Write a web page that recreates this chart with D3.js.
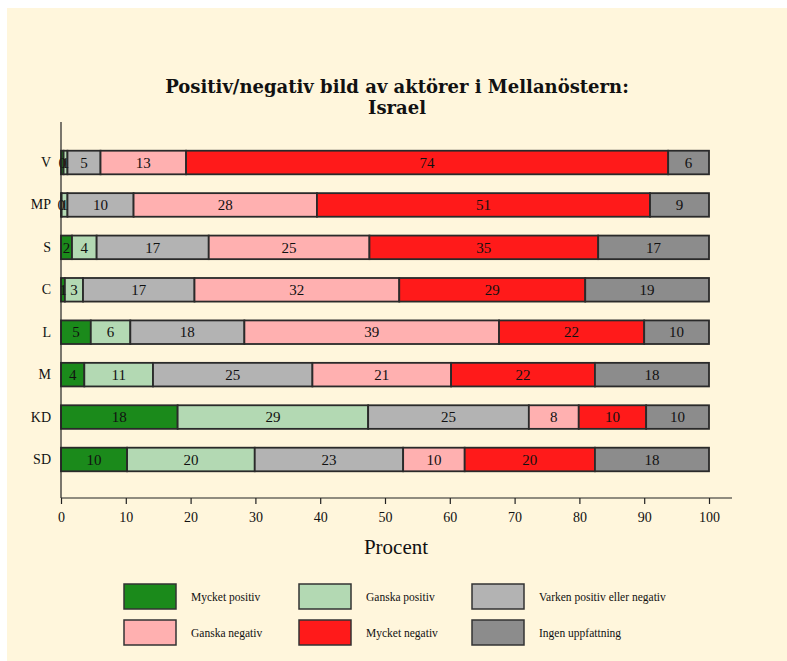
<!DOCTYPE html>
<html><head><meta charset="utf-8">
<script src="https://cdn.jsdelivr.net/npm/d3@7"></script>
<style>
html,body{margin:0;padding:0;background:#fff;}
svg{display:block;}
text{font-family:"Liberation Serif","DejaVu Serif",serif;fill:#111;}
</style></head>
<body>
<svg id="chart" width="787" height="661"></svg>
<script>
const categories = ["V","MP","S","C","L","M","KD","SD"];
const seriesNames = ["Mycket positiv","Ganska positiv","Varken positiv eller negativ","Ganska negativ","Mycket negativ","Ingen uppfattning"];
const seriesColors = ["#1b8a1b","#b3d9b3","#b3b3b3","#ffb0b0","#ff1a1a","#8c8c8c"];
const mycketPositiv = [0.4, 0.1, 1.7, 0.6, 4.6, 3.6, 18.0, 10.2];
const ganskaPositiv = [0.6, 0.9, 3.8, 2.8, 6.1, 10.6, 29.4, 19.7];
const varken        = [5.1, 10.2, 17.3, 17.2, 17.6, 24.6, 24.8, 22.9];
const ganskaNegativ = [13.2, 28.3, 24.8, 31.6, 39.3, 21.4, 7.7, 9.5];
const mycketNegativ = [74.4, 51.4, 35.3, 28.7, 22.4, 22.2, 10.4, 20.1];
const ingen         = [6.3, 9.1, 17.1, 19.1, 10.0, 17.6, 9.7, 17.6];
const xTicks = [0,10,20,30,40,50,60,70,80,90,100];
const titleLines = ["Positiv/negativ bild av aktörer i Mellanöstern:","Israel"];
const xTitle = "Procent";

const series = [mycketPositiv, ganskaPositiv, varken, ganskaNegativ, mycketNegativ, ingen];
const rows = categories.map((c,i)=>{
  const o={cat:c};
  seriesNames.forEach((s,j)=>o[s]=series[j][i]);
  return o;
});
const stacked = d3.stack().keys(seriesNames)(rows);

const svg = d3.select("#chart");
svg.append("rect").attr("x",7).attr("y",8).attr("width",780).attr("height",653).attr("fill","#fff6dc");

const x = d3.scaleLinear().domain([0,100]).range([61,709]);
const y = d3.scaleBand().domain(categories).range([141.3,480.7]).paddingInner(0.444).paddingOuter(0.222);

// title
const t = svg.append("text").attr("text-anchor","middle").attr("font-weight","bold")
  .attr("font-size",18).style("font-family","'DejaVu Serif',serif");
titleLines.forEach((l,i)=>t.append("tspan").attr("x",397).attr("y",93+i*20.5).text(l));

// bars
const g = svg.append("g");
stacked.forEach((layer,j)=>{
  g.selectAll(null).data(layer).enter().append("rect")
    .attr("x",d=>x(d[0])).attr("width",d=>x(d[1])-x(d[0]))
    .attr("y",d=>y(d.data.cat)).attr("height",y.bandwidth())
    .attr("fill",seriesColors[j]).attr("stroke","#2a2a2a").attr("stroke-width",1.8);
});
stacked.forEach((layer,j)=>{
  g.selectAll(null).data(layer).enter().append("text")
    .attr("x",d=>(x(d[0])+x(d[1]))/2).attr("y",d=>y(d.data.cat)+y.bandwidth()/2)
    .attr("dy","0.35em").attr("text-anchor","middle").attr("font-size",15)
    .attr("fill","#222")
    .text(d=>Math.round(d[1]-d[0]));
});

// axes
const xa = svg.append("g").attr("transform","translate(0,498)")
  .call(d3.axisBottom(x).tickValues(xTicks).tickSize(6).tickPadding(8).tickSizeOuter(0));
xa.select(".domain").remove();
xa.selectAll("line").attr("stroke","#222").attr("stroke-width",1.2);
xa.selectAll("text").attr("font-size",14).attr("font-family","Liberation Serif").attr("fill","#111");
svg.append("line").attr("x1",61).attr("x2",732).attr("y1",498).attr("y2",498).attr("stroke","#222").attr("stroke-width",1.2);

const ya = svg.append("g").attr("transform","translate(61,0)")
  .call(d3.axisLeft(y).tickSize(0).tickPadding(10));
ya.select(".domain").remove();
ya.selectAll("text").attr("font-size",14).attr("font-family","Liberation Serif").attr("fill","#111");
svg.append("line").attr("x1",61).attr("x2",61).attr("y1",122).attr("y2",498).attr("stroke","#222").attr("stroke-width",1.2);

svg.append("text").attr("x",396).attr("y",554).attr("text-anchor","middle").attr("font-size",21).text(xTitle);

// legend
const lx = [124,299,472], ly = [584,620];
seriesNames.forEach((s,j)=>{
  const cx = lx[j%3], cy = ly[Math.floor(j/3)];
  svg.append("rect").attr("x",cx).attr("y",cy).attr("width",52).attr("height",25)
    .attr("fill",seriesColors[j]).attr("stroke","#333").attr("stroke-width",1.5);
  svg.append("text").attr("x",cx+67).attr("y",cy+12.5).attr("dy","0.35em").attr("font-size",11.5).text(s);
});
</script>
</body></html>
